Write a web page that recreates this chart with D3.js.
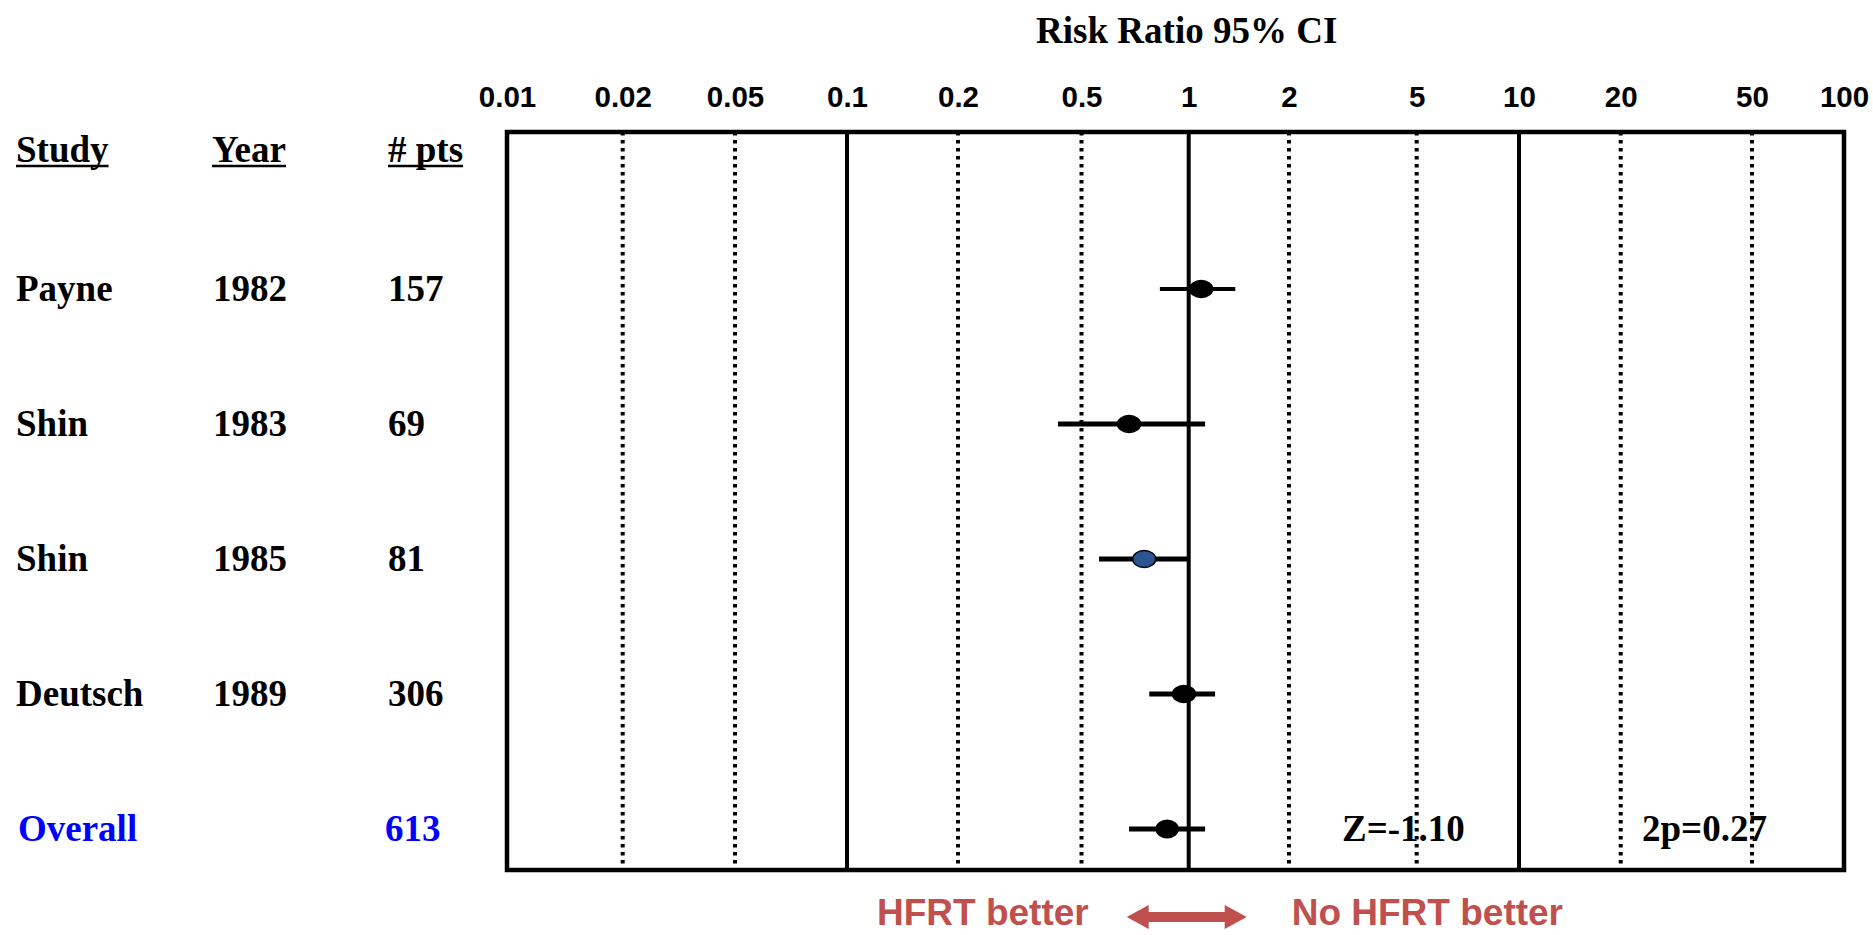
<!DOCTYPE html>
<html>
<head>
<meta charset="utf-8">
<script src="https://cdn.jsdelivr.net/npm/d3@7"></script>
<style>
  html, body { margin: 0; padding: 0; background: #fff; }
  svg { display: block; }
</style>
</head>
<body>
<div id="chart"></div>
<script>
// data
const studies = ['Payne', 'Shin', 'Shin', 'Deutsch'];
const years = ['1982', '1983', '1985', '1989'];
const patients = [157, 69, 81, 306];
const riskRatio = [1.09, 0.68, 0.75, 0.97];
const ciLow = [0.83, 0.42, 0.56, 0.775];
const ciHigh = [1.38, 1.12, 1.0, 1.2];

const overallLabel = 'Overall';
const overallPts = 613;
const overallRR = 0.87;
const overallLow = 0.68;
const overallHigh = 1.12;
const zText = 'Z=-1.10';
const pText = '2p=0.27';

const tickValues = [0.01, 0.02, 0.05, 0.1, 0.2, 0.5, 1, 2, 5, 10, 20, 50, 100];
const tickLabels = ['0.01', '0.02', '0.05', '0.1', '0.2', '0.5', '1', '2', '5', '10', '20', '50', '100'];
const solidTicks = [0.1, 1, 10];

// layout
const width = 1873, height = 935;
const box = { left: 507, right: 1844, top: 132, bottom: 870 };
// the original axis is hand drawn, gridlines sit a little off true log spacing
const tickOffsets = [0, 115.7, 228, 340, 451, 574.5, 681.7, 782, 909.7, 1012, 1113.7, 1245, 1337];

const serif = '"Liberation Serif", "Times New Roman", serif';
const sans = '"Liberation Sans", Arial, sans-serif';

const svg = d3.select('#chart').append('svg')
  .attr('width', width)
  .attr('height', height);

const xLog = d3.scaleLinear()
  .domain(tickValues.map(Math.log10))
  .range(tickOffsets.map(d => box.left + d));
const x = v => xLog(Math.log10(v));

const y = d3.scaleLinear().domain([0, 4]).range([289, 829]);

// title
svg.append('text')
  .attr('x', x(1) - 2)
  .attr('y', 43)
  .attr('text-anchor', 'middle')
  .style('font-family', serif)
  .style('font-weight', 'bold')
  .style('font-size', '37px')
  .text('Risk Ratio 95% CI');

// top axis labels
const axis = d3.axisTop(xLog)
  .tickValues(tickValues.map(Math.log10))
  .tickFormat((d, i) => tickLabels[i])
  .tickSize(0)
  .tickPadding(25);

const axisG = svg.append('g')
  .attr('transform', `translate(0,${box.top})`)
  .call(axis);
axisG.select('.domain').remove();
axisG.selectAll('text')
  .attr('dy', 0)
  .style('font-family', sans)
  .style('font-weight', 'bold')
  .style('font-size', '29.5px')
  .attr('fill', '#000');

// gridlines
const inner = tickValues.slice(1, -1);
svg.append('g').selectAll('line')
  .data(inner)
  .join('line')
  .attr('x1', d => x(d))
  .attr('x2', d => x(d))
  .attr('y1', box.top)
  .attr('y2', box.bottom)
  .attr('stroke', '#000')
  .attr('stroke-width', d => solidTicks.includes(d) ? 4 : 4)
  .attr('stroke-dasharray', d => solidTicks.includes(d) ? null : '3.5,4.5');

// frame
svg.append('rect')
  .attr('x', box.left)
  .attr('y', box.top)
  .attr('width', box.right - box.left)
  .attr('height', box.bottom - box.top)
  .attr('fill', 'none')
  .attr('stroke', '#000')
  .attr('stroke-width', 4.5);

// column headers
const headers = [
  { text: 'Study', x: 16 },
  { text: 'Year', x: 212 },
  { text: '# pts', x: 388 }
];
const headG = svg.append('g');
headers.forEach(h => {
  const t = headG.append('text')
    .attr('x', h.x)
    .attr('y', 162)
    .style('font-family', serif)
    .style('font-weight', 'bold')
    .style('font-size', '37px')
    .text(h.text);
  const w = t.node().getComputedTextLength();
  headG.append('line')
    .attr('x1', h.x).attr('x2', h.x + w)
    .attr('y1', 166).attr('y2', 166)
    .attr('stroke', '#000')
    .attr('stroke-width', 2.5);
});

// study rows
const rows = studies.map((s, i) => ({
  study: s, year: years[i], pts: patients[i],
  rr: riskRatio[i], lo: ciLow[i], hi: ciHigh[i], i
}));

const rowText = (g, txt, xPos, yPos, color) => g.append('text')
  .attr('x', xPos)
  .attr('y', yPos)
  .attr('fill', color)
  .style('font-family', serif)
  .style('font-weight', 'bold')
  .style('font-size', '37px')
  .text(txt);

const labelsG = svg.append('g');
rows.forEach(r => {
  rowText(labelsG, r.study, 16, y(r.i) + 12, '#000');
  rowText(labelsG, r.year, 213, y(r.i) + 12, '#000');
  rowText(labelsG, r.pts, 388, y(r.i) + 12, '#000');
});
rowText(labelsG, overallLabel, 18, y(4) + 12, '#0000ff');
rowText(labelsG, overallPts, 385, y(4) + 12, '#0000ff');

// CI lines + point estimates
const all = rows.concat([{ rr: overallRR, lo: overallLow, hi: overallHigh, i: 4 }]);
const marks = svg.append('g');

marks.selectAll('line.ci')
  .data(all)
  .join('line')
  .attr('class', 'ci')
  .attr('x1', d => x(d.lo))
  .attr('x2', d => x(d.hi))
  .attr('y1', d => y(d.i))
  .attr('y2', d => y(d.i))
  .attr('stroke', '#000')
  .attr('stroke-width', d => d.i === 0 ? 4 : 5);

marks.selectAll('ellipse')
  .data(all)
  .join('ellipse')
  .attr('cx', d => x(d.rr))
  .attr('cy', d => y(d.i))
  .attr('rx', d => d.i === 4 ? 11 : 11.5)
  .attr('ry', d => d.i === 4 ? 8.8 : 8.5)
  .attr('fill', d => d.i === 2 ? '#2a5591' : '#000')
  .attr('stroke', '#000')
  .attr('stroke-width', 1.5);

// test statistics
rowText(svg, zText, 1342, 841, '#000');
rowText(svg, pText, 1642, 841, '#000');

// favours arrow
const red = '#c0504d';
const ax = x(1) - 2, ay = 917, half = 60, head = 22, shaft = 5, headH = 12;
svg.append('path')
  .attr('d', [
    [ax - half, ay],
    [ax - half + head, ay - headH],
    [ax - half + head, ay - shaft],
    [ax + half - head, ay - shaft],
    [ax + half - head, ay - headH],
    [ax + half, ay],
    [ax + half - head, ay + headH],
    [ax + half - head, ay + shaft],
    [ax - half + head, ay + shaft],
    [ax - half + head, ay + headH]
  ].map((p, i) => (i ? 'L' : 'M') + p[0] + ',' + p[1]).join('') + 'Z')
  .attr('fill', red);

svg.append('text')
  .attr('x', ax - 98)
  .attr('y', 925)
  .attr('text-anchor', 'end')
  .attr('fill', red)
  .style('font-family', sans)
  .style('font-weight', 'bold')
  .style('font-size', '37px')
  .text('HFRT better');

svg.append('text')
  .attr('x', ax + 105)
  .attr('y', 925)
  .attr('fill', red)
  .style('font-family', sans)
  .style('font-weight', 'bold')
  .style('font-size', '37px')
  .text('No HFRT better');
</script>
</body>
</html>
